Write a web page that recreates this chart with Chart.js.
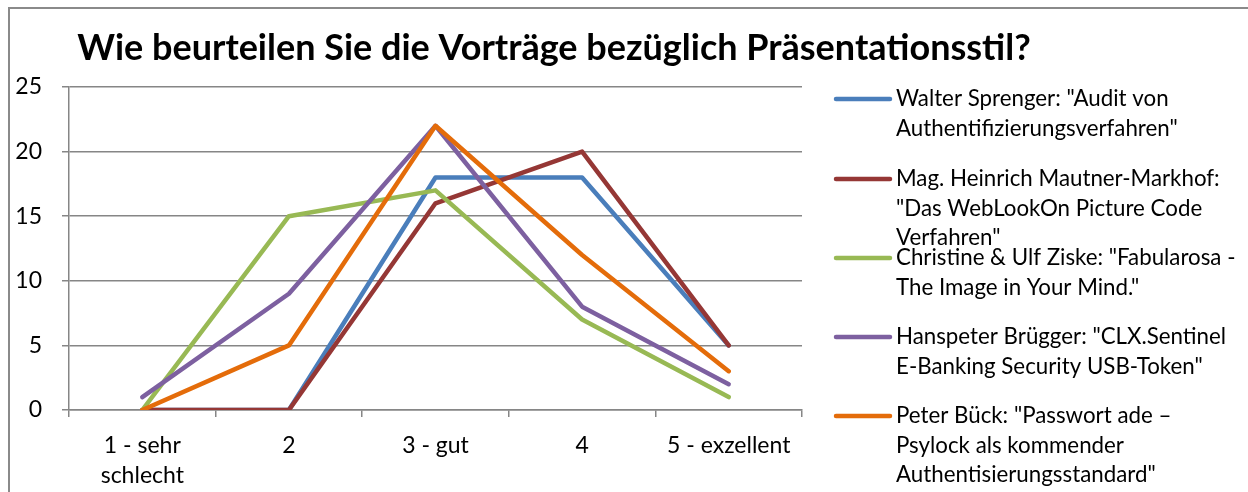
<!DOCTYPE html>
<html>
<head>
<meta charset="utf-8">
<script src="https://cdn.jsdelivr.net/npm/chart.js@4"></script>
<style>
  html, body { margin: 0; padding: 0; background: #fff; overflow: hidden; }
  #wrap { position: relative; width: 1248px; height: 492px; }
  #frame { position: absolute; left: 8px; top: 7px; width: 1300px; height: 600px;
           border-left: 2px solid #8a8a8a; border-top: 2px solid #8a8a8a; }
  canvas { position: absolute; left: 0; top: 0; }
</style>
</head>
<body>
<div id="wrap">
  <div id="frame"></div>
  <canvas id="chart" width="1248" height="492"></canvas>
</div>
<script>
const chartTitle = 'Wie beurteilen Sie die Vorträge bezüglich Präsentationsstil?';
const categories = [['1 - sehr', 'schlecht'], '2', '3 - gut', '4', '5 - exzellent'];
const yTicks = [0, 5, 10, 15, 20, 25];

const sprenger = [0, 0, 18, 18, 5];
const mautner = [0, 0, 16, 20, 5];
const ziske = [0, 15, 17, 7, 1];
const bruegger = [1, 9, 22, 8, 2];
const bueck = [0, 5, 22, 12, 3];

const legendLines = [
  ['Walter Sprenger: "Audit von', 'Authentifizierungsverfahren"'],
  ['Mag. Heinrich Mautner-Markhof:', '"Das WebLookOn Picture Code', 'Verfahren"'],
  ['Christine & Ulf Ziske: "Fabularosa -', 'The Image in Your Mind."'],
  ['Hanspeter Brügger: "CLX.Sentinel', 'E-Banking Security USB-Token"'],
  ['Peter Bück: "Passwort ade –', 'Psylock als kommender', 'Authentisierungsstandard"']
];
const colors = ['#4a7ebb', '#953735', '#98b954', '#7d60a0', '#e46c0a'];
const seriesData = [sprenger, mautner, ziske, bruegger, bueck];

const FONT = 'Lato, "Open Sans", sans-serif';

// title and multi-line legend drawn by hand
const extras = {
  id: 'extras',
  afterDraw(chart) {
    const ctx = chart.ctx;
    ctx.save();
    ctx.fillStyle = '#000';
    ctx.font = 'bold 36px ' + FONT;
    ctx.textAlign = 'center';
    ctx.textBaseline = 'middle';
    ctx.fillText(chartTitle, 554, 48);

    const legendY = [99, 179, 258, 337, 416];
    ctx.font = '22.3px ' + FONT;
    ctx.textAlign = 'left';
    legendLines.forEach((lines, i) => {
      const y = legendY[i];
      ctx.strokeStyle = colors[i];
      ctx.lineWidth = 4.5;
      ctx.lineCap = 'round';
      ctx.beginPath();
      ctx.moveTo(836, y);
      ctx.lineTo(890, y);
      ctx.stroke();
      lines.forEach((t, k) => ctx.fillText(t, 896, y + k * 29.5));
    });
    ctx.restore();
  }
};

new Chart(document.getElementById('chart'), {
  type: 'line',
  data: {
    labels: categories,
    datasets: seriesData.map((d, i) => ({
      label: legendLines[i].join(' '),
      data: d,
      order: -i, // later series on top, like the original
      borderColor: colors[i],
      backgroundColor: colors[i],
      borderWidth: 4.5,
      pointRadius: 0,
      tension: 0,
      borderCapStyle: 'round',
      borderJoinStyle: 'round'
    }))
  },
  options: {
    responsive: false,
    animation: false,
    layout: { padding: { top: 87, right: 446, left: 0, bottom: 0 } },
    plugins: {
      legend: { display: false },
      title: { display: false },
      tooltip: { enabled: false }
    },
    scales: {
      x: {
        offset: true,
        afterFit(s) { s.height = 82; },
        grid: { offset: true, drawOnChartArea: false, drawTicks: true, tickLength: 7,
                color: '#868686', lineWidth: 1.5 },
        border: { color: '#868686', width: 1.5 },
        ticks: { color: '#000', font: { family: FONT, size: 23, lineHeight: 1.3 }, padding: 14, maxRotation: 0 }
      },
      y: {
        min: 0,
        max: 25,
        afterFit(s) { s.width = 69; },
        afterBuildTicks(s) { s.ticks = yTicks.map(v => ({ value: v })); },
        grid: { color: '#868686', lineWidth: 1.5, tickLength: 7 },
        border: { color: '#868686', width: 1.5 },
        ticks: { color: '#000', font: { family: FONT, size: 23 }, padding: 20 }
      }
    }
  },
  plugins: [extras]
});
</script>
</body>
</html>
